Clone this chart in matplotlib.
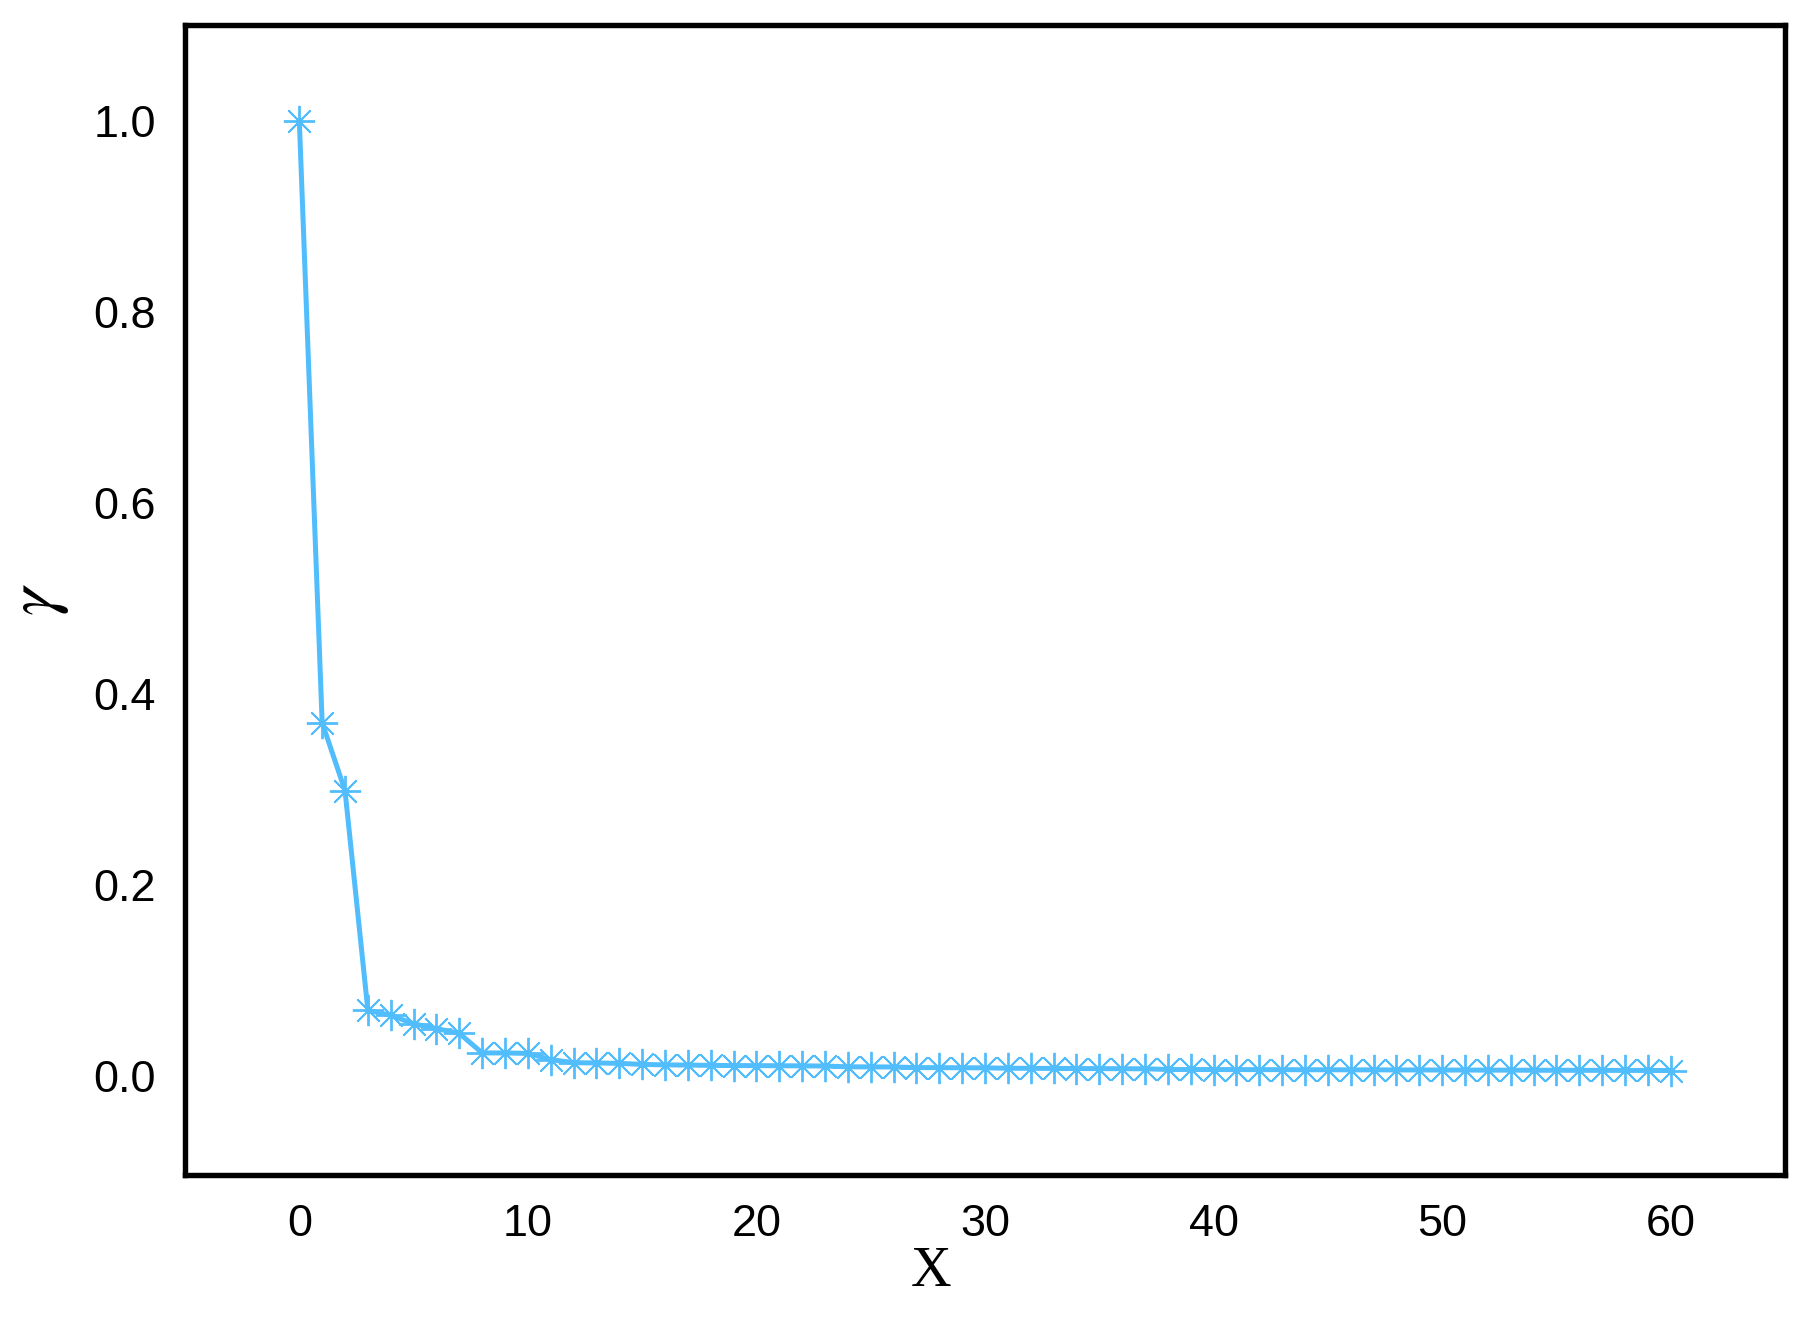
import matplotlib
matplotlib.use("Agg")
import matplotlib.pyplot as plt

# gamma values, x = 0..60
x = list(range(61))
gamma = [1.000, 0.370, 0.299, 0.069, 0.064, 0.055, 0.050, 0.045, 0.0245, 0.0245,
         0.0240, 0.0175, 0.0143, 0.0140, 0.0136, 0.0125, 0.0120, 0.0118, 0.0115, 0.0113,
         0.0112, 0.0111, 0.0110, 0.0108, 0.0100, 0.0099, 0.0098, 0.0092, 0.0091, 0.0090,
         0.0089, 0.0085, 0.0084, 0.0083, 0.0082, 0.0081, 0.0080, 0.0079, 0.0072, 0.0072,
         0.0071, 0.0071, 0.0070, 0.0070, 0.0069, 0.0069, 0.0068, 0.0068, 0.0067, 0.0067,
         0.0066, 0.0066, 0.0065, 0.0065, 0.0064, 0.0064, 0.0063, 0.0063, 0.0062, 0.0062,
         0.0061]

xticks = [0, 10, 20, 30, 40, 50, 60]
yticks = [0.0, 0.2, 0.4, 0.6, 0.8, 1.0]

plt.rcParams['font.family'] = ['Liberation Sans', 'DejaVu Sans']
plt.rcParams['mathtext.fontset'] = 'stix'

fig = plt.figure(figsize=(1814 / 300, 1320 / 300), dpi=300)
ax = fig.add_axes([0.102, 0.110, 0.882, 0.871])

ax.plot(x, gamma, color='#52BDFC', lw=1.2, marker=(8, 2, 0), ms=7.5, mew=0.45)

ax.set_xlim(-5, 65)
ax.set_ylim(-0.103, 1.100)
ax.set_xticks(xticks)
ax.set_yticks(yticks)
ax.set_yticklabels([f"{t:.1f}" for t in yticks])
ax.tick_params(length=0, labelsize=10.8, pad=7)
for s in ax.spines.values():
    s.set_linewidth(1.3)

ax.set_xlabel("X", family='Liberation Serif', fontsize=13.5)
ax.xaxis.set_label_coords(0.466, -0.062)
ax.set_ylabel(r"$\gamma$", fontsize=17)
ax.yaxis.set_label_coords(-0.071, 0.50)

fig.savefig("out.png", dpi=300)
